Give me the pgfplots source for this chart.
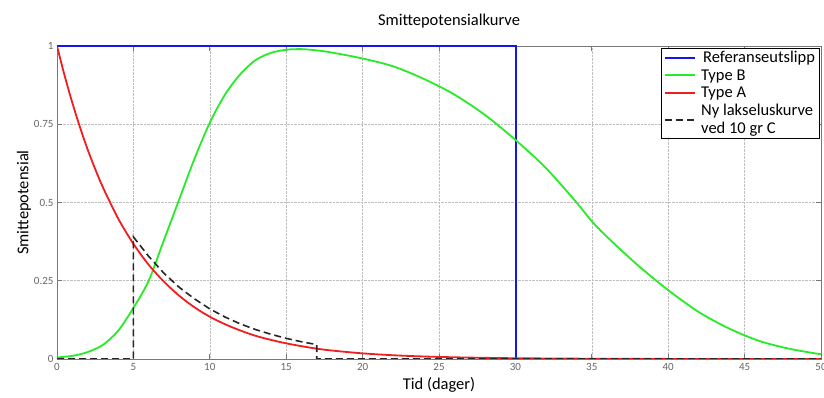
\documentclass[border=0pt]{standalone}
\usepackage{pgfplots}
\pgfplotsset{compat=1.18}
\usepackage{fontspec}
\setmainfont{Carlito}
\definecolor{cblue}{RGB}{20,20,240}
\definecolor{cgreen}{RGB}{40,235,40}
\definecolor{cred}{RGB}{240,30,30}
\definecolor{frame}{RGB}{120,120,120}
\begin{document}
\begin{tikzpicture}
\begin{axis}[
  name=ax,
  scale only axis,
  width=764pt, height=313pt,
  xmin=0, xmax=50, ymin=0, ymax=1,
  xtick={0,5,...,50},
  ytick={0,0.25,0.5,0.75,1},
  yticklabels={0,0.25,0.5,0.75,1},
  grid=major,
  major grid style={densely dotted, gray!50, line width=0.6pt},
  axis line style={frame, line width=0.8pt},
  tick style={frame, line width=0.8pt},
  major tick length=5pt,
  tick pos=both,
  tick label style={font=\fontsize{11}{12}\selectfont, text=black!60},
  /pgf/number format/assume math mode=true,
  xticklabel style={yshift=-1pt},
  title={Smittepotensialkurve},
  title style={font=\fontsize{16.5}{18}\selectfont, yshift=8pt, xshift=10pt},
  xlabel={Tid (dager)},
  ylabel={Smittepotensial},
  label style={font=\fontsize{16.5}{18}\selectfont},
  xlabel style={yshift=0pt},
  ylabel style={yshift=-4pt},
  legend style={at={(rel axis cs:0.998,0.995)}, anchor=north east,
    draw=black, line width=0.6pt, fill=white,
    font=\fontsize{16.5}{18}\selectfont,
    nodes={align=left, inner sep=1.2pt},
    row sep=3pt, inner xsep=3pt, inner ysep=2pt},
  legend cell align=left,
  legend image code/.code={\draw[#1, line width=2pt] (0pt,0pt) -- (30pt,0pt);},
]
\addplot[cblue, line width=2.5pt] coordinates {(0,1) (30.05,1) (30.05,0) (50,0)};
\addlegendentry{\hspace{6pt}Referanseutslipp}
\addplot[cgreen, line width=1.8pt, smooth] coordinates {
(0,0.005) (1,0.01) (2,0.022) (3,0.045) (4,0.09) (5,0.163) (6,0.25) (7,0.38) (8,0.51) (9,0.64) (10,0.755) (11,0.845) (12,0.91) (13,0.955) (14,0.978) (15,0.988) (16,0.99) (17,0.986) (18,0.979) (20,0.96) (22,0.935) (24,0.895) (26,0.845) (28,0.78) (30,0.70) (32,0.61) (34,0.50) (35,0.44) (36,0.39) (38,0.30) (40,0.22) (42,0.15) (44,0.097) (46,0.057) (48,0.032) (50,0.015)};
\addlegendentry{\hspace{4pt}Type B}
\addplot[cred, line width=1.8pt, smooth] coordinates {
(0,1) (0.5,0.905) (1,0.819) (1.5,0.741) (2,0.670) (2.5,0.607) (3,0.549) (4,0.449) (5,0.368) (6,0.301) (7,0.247) (8,0.202) (9,0.165) (10,0.135) (11,0.111) (12,0.091) (13,0.074) (14,0.061) (15,0.050) (16,0.041) (17,0.033) (18,0.027) (20,0.018) (22,0.012) (24,0.008) (26,0.0055) (28,0.0037) (30,0.0025) (35,0.0009) (40,0.0003) (50,0)};
\addlegendentry{\hspace{4pt}Type A}
\addplot[black!85, line width=1.6pt, dash pattern=on 7pt off 4pt] coordinates {
(0,0) (5,0) (5,0.39) (6,0.328) (7,0.274) (8,0.229) (9,0.192) (10,0.160) (11,0.134) (12,0.112) (13,0.094) (14,0.079) (15,0.066) (16,0.055) (17,0.046) (17,0) (50,0)};
\addlegendentry{\hspace{4pt}Ny lakseluskurve\\\hspace{4pt}ved 10 gr C}
\end{axis}
\pgfresetboundingbox
\path ([xshift=-57pt,yshift=-39pt]ax.south west) rectangle ([xshift=3pt,yshift=46pt]ax.north east);
\end{tikzpicture}
\end{document}
